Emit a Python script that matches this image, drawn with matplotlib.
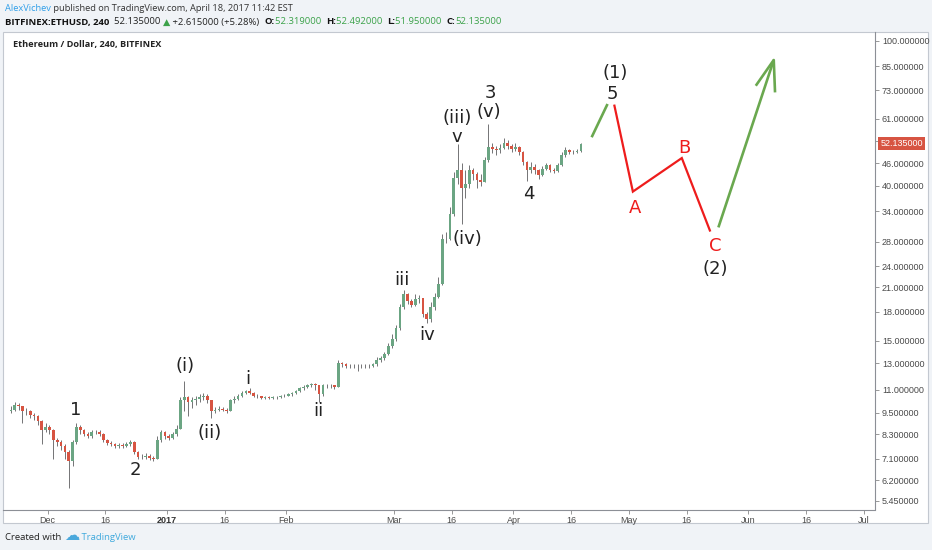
import numpy as np
import pandas as pd
import matplotlib
matplotlib.use('Agg')
import matplotlib.pyplot as plt
import matplotlib.dates as mdates
import matplotlib.transforms as mtransforms
from matplotlib.patches import Rectangle
from matplotlib.ticker import FixedLocator, NullLocator, FixedFormatter

W, H = 932, 550

# daily candles (BITFINEX ETHUSD)
dates = pd.date_range('2016-11-21', '2017-04-18', freq='D')
closes = [9.7, 10.0, 9.9, 9.6, 9.6, 9.4, 9.3, 9.0, 8.5, 8.7,
          8.5, 8.0, 7.9, 7.7, 7.4, 7.0, 7.9, 8.7, 8.5, 8.3,
          8.2, 8.4, 8.4, 8.3, 8.0, 7.85, 7.8, 7.7, 7.75, 7.7,
          7.8, 7.9, 7.4, 7.2, 7.2, 7.25, 7.15, 7.1, 8.0, 8.4, 8.2,
          8.1, 8.3, 8.6, 10.3, 10.5, 10.2, 10.3, 10.4, 10.5, 10.6,
          10.3, 9.6, 9.7, 9.75, 9.7, 9.6, 10.3, 10.4, 10.6, 10.8,
          10.9, 10.8, 10.6, 10.55, 10.45, 10.5, 10.45, 10.5, 10.5, 10.55, 10.6,
          10.7, 10.75, 10.9, 11.1, 11.2, 11.3, 11.4, 11.3, 10.7, 11.3,
          11.3, 11.3, 11.2, 13.0, 12.9, 12.8, 12.8, 12.8, 12.75, 12.8,
          12.8, 12.8, 12.9, 13.3, 13.4, 13.8, 14.5, 15.2,
          16.2, 18.5, 20.2, 19.3, 18.8, 19.5, 19.6, 17.8, 17.2, 18.5,
          19.8, 21.5, 28.5, 28.6, 33.5, 42.0, 44.0, 39.5, 40.5, 44.0,
          43.0, 41.5, 41.0, 47.0, 51.0, 50.5, 50.0, 50.8, 52.5, 51.5, 50.5,
          51.0, 49.5, 46.5, 44.0, 45.0, 44.0, 42.8, 44.5, 45.5, 44.2,
          43.8, 45.5, 48.5, 50.2, 49.4, 49.4, 49.8, 52.1]
highs = [9.9, 10.2, 10.1, 9.95, 9.8, 9.7, 9.5, 9.4, 9.1, 8.9,
         8.8, 8.6, 8.1, 8.0, 7.8, 7.5, 8.0, 8.9, 8.8, 8.6,
         8.4, 8.5, 8.55, 8.5, 8.35, 8.05, 7.95, 7.85, 7.85, 7.85,
         7.9, 8.0, 7.95, 7.45, 7.3, 7.35, 7.3, 7.25, 8.2, 8.5, 8.45,
         8.3, 8.4, 8.8, 10.5, 11.6, 10.6, 10.5, 10.6, 10.7, 10.75,
         10.7, 10.3, 9.85, 9.9, 9.85, 9.8, 10.4, 10.6, 10.7, 10.9,
         11.0, 11.1, 10.85, 10.7, 10.6, 10.6, 10.55, 10.6, 10.6, 10.65, 10.7,
         10.8, 10.85, 11.0, 11.2, 11.3, 11.4, 11.5, 11.45, 11.3, 11.4,
         11.4, 11.4, 11.35, 13.3, 13.1, 13.0, 12.95, 12.95, 12.9, 12.95,
         12.95, 12.95, 13.05, 13.5, 13.6, 14.0, 14.8, 15.6,
         16.6, 18.9, 20.6, 20.3, 19.5, 20.2, 20.0, 19.7, 18.0, 19.2,
         20.3, 22.5, 29.5, 29.9, 35.0, 43.5, 52.0, 46.0, 44.0, 45.5,
         44.8, 43.5, 43.0, 48.0, 59.0, 52.5, 51.5, 52.0, 54.0, 53.2, 52.0,
         52.5, 51.3, 49.8, 46.8, 46.5, 45.8, 44.5, 45.3, 46.2, 45.8,
         44.6, 46.0, 49.6, 51.0, 50.4, 50.0, 50.3, 52.5]
lows = [9.5, 9.6, 9.7, 8.9, 9.4, 9.2, 9.1, 8.8, 7.8, 8.4,
        8.3, 7.1, 7.7, 7.5, 7.1, 5.9, 6.8, 7.8, 8.3, 8.2,
        8.1, 8.1, 8.3, 8.2, 7.9, 7.75, 7.7, 7.6, 7.6, 7.6,
        7.65, 7.7, 7.3, 7.1, 7.1, 7.1, 7.05, 7.0, 7.1, 7.9, 8.05,
        8.0, 8.05, 8.2, 8.6, 9.6, 9.3, 9.8, 10.0, 10.2, 10.3,
        10.1, 9.2, 9.5, 9.6, 9.6, 9.5, 9.6, 10.1, 10.3, 10.5,
        10.7, 10.7, 10.5, 10.45, 10.35, 10.4, 10.35, 10.4, 10.4, 10.45, 10.5,
        10.55, 10.6, 10.7, 10.85, 11.0, 11.1, 11.2, 11.0, 10.2, 10.6,
        11.15, 11.15, 11.05, 11.2, 12.7, 12.65, 12.65, 12.65, 12.4, 12.6,
        12.65, 12.65, 12.7, 12.8, 13.1, 13.3, 13.7, 14.3,
        15.0, 16.0, 18.3, 18.9, 18.5, 18.7, 19.0, 17.4, 16.8, 16.9,
        18.2, 19.6, 21.3, 27.8, 28.3, 33.0, 40.5, 31.4, 37.0, 39.5,
        41.5, 39.5, 40.0, 40.8, 46.5, 49.0, 48.5, 49.2, 50.3, 50.5, 49.5,
        49.8, 48.5, 45.5, 41.3, 43.2, 43.0, 41.8, 42.5, 44.0, 43.6,
        43.2, 43.5, 45.3, 48.0, 48.8, 48.9, 49.0, 49.6]
first_open = 9.6

# projected wave path (drawn on the chart)
impulse_dates = ['2017-04-21 07:00', '2017-04-25 10:00']
impulse_prices = [54.3, 67.0]
abc_dates = ['2017-04-27 05:00', '2017-05-02 00:00', '2017-05-14 17:00', '2017-05-22 00:00']
abc_prices = [66.3, 38.5, 47.6, 30.1]
wave3_dates = ['2017-05-24 05:00', '2017-06-07 14:00']
wave3_prices = [30.7, 88.5]
head_dates = ['2017-06-02 22:00', '2017-06-07 14:00', '2017-06-07 22:00']
head_prices = [75.2, 88.5, 72.1]

# wave count labels
wave_labels = ['1', '2', '(i)', '(ii)', 'i', 'ii', 'iii', 'iv', '(iii)', 'v',
               '(iv)', '3', '(v)', '4', '(1)', '5', 'A', 'B', 'C', '(2)']
wave_dates = ['2016-12-08 10:00', '2016-12-23 17:00', '2017-01-05 17:00', '2017-01-12 05:00',
              '2017-01-22 02:00', '2017-02-09 05:00', '2017-03-03 00:00', '2017-03-09 12:00',
              '2017-03-17 07:00', '2017-03-17 07:00', '2017-03-19 22:00', '2017-03-25 22:00',
              '2017-03-25 17:00', '2017-04-05 02:00', '2017-04-27 10:00', '2017-04-26 14:00',
              '2017-05-02 14:00', '2017-05-15 07:00', '2017-05-23 10:00', '2017-05-23 10:00']
wave_prices = [9.67, 6.62, 12.8, 8.38, 11.8, 9.63, 22.0, 15.5, 61.4, 54.5,
               28.5, 71.8, 63.5, 37.9, 81.5, 71.3, 34.6, 50.8, 27.3, 23.6]
wave_colors = ['#222222'] * 16 + ['#ee1c1c', '#ee1c1c', '#ee1c1c', '#222222']

y_ticks = [100, 85, 73, 61, 53, 46, 40, 34, 28, 24, 21, 18, 15, 13, 11, 9.5, 8.3, 7.1, 6.2, 5.45]
x_ticks = ['2016-12-01', '2016-12-16', '2017-01-01', '2017-01-16', '2017-02-01', '2017-03-01',
           '2017-03-16', '2017-04-01', '2017-04-16', '2017-05-01', '2017-05-16', '2017-06-01',
           '2017-06-16', '2017-07-01']
x_labels = ['Dec', '16', '2017', '16', 'Feb', 'Mar', '16', 'Apr', '16', 'May', '16', 'Jun', '16', 'Jul']
last_price = 52.135

up_color = '#6ba583'
down_color = '#d75442'
wick_color = '#737375'
proj_green = '#6aa84f'
proj_red = '#ee1c1c'
axis_font = 'Liberation Sans'

fig = plt.figure(figsize=(W / 100, H / 100), dpi=100)
fig.patch.set_facecolor('#f0f3f7')

# white chart panel (behind the axes)
fig.patches.append(Rectangle((3 / W, 1 - 523 / H), 925 / W, (523 - 32) / H,
                             transform=fig.transFigure, facecolor='white',
                             edgecolor='#c3c8d0', linewidth=0.8, zorder=-5))

ax = fig.add_axes([3 / W, 1 - 509.5 / H, 872 / W, (509.5 - 32) / H], zorder=2)
ax.set_facecolor('none')
ax.set_yscale('log')

c = np.array(closes)
o = np.array([first_open] + closes[:-1])
xs = mdates.date2num(dates) + 0.5
cols = np.where(c >= o, up_color, down_color)
ax.vlines(xs, lows, highs, color=wick_color, linewidth=0.7, zorder=2)
ax.bar(xs, np.abs(c - o), bottom=np.minimum(o, c), width=0.7, color=cols, linewidth=0, zorder=3)

# projection
ax.plot(pd.to_datetime(impulse_dates), impulse_prices, color=proj_green, lw=1.9, solid_capstyle='butt')
ax.plot(pd.to_datetime(abc_dates), abc_prices, color=proj_red, lw=1.6, solid_joinstyle='miter')
ax.plot(pd.to_datetime(wave3_dates), wave3_prices, color=proj_green, lw=1.9, solid_capstyle='butt')
ax.plot(pd.to_datetime(head_dates), head_prices, color=proj_green, lw=1.9, solid_capstyle='butt')

for lab, d, p, col in zip(wave_labels, wave_dates, wave_prices, wave_colors):
    ax.text(mdates.date2num(pd.Timestamp(d)), p, lab, color=col, fontsize=13,
            ha='center', va='center', family='DejaVu Sans')

ax.set_xlim(mdates.date2num(pd.Timestamp('2016-11-19 10:30')),
            mdates.date2num(pd.Timestamp('2017-07-03 21:00')))
ax.set_ylim(5.155, 105.65)

# right price scale
ax.yaxis.tick_right()
ax.yaxis.set_major_locator(FixedLocator(y_ticks))
ax.yaxis.set_major_formatter(FixedFormatter(['%.6f' % v for v in y_ticks]))
ax.yaxis.set_minor_locator(NullLocator())
ax.tick_params(axis='y', which='major', length=3, width=0.6, color='#888888', pad=2,
               labelsize=6.5, labelcolor='#4a4a4a')

ax.set_xticks(mdates.date2num(pd.to_datetime(x_ticks)))
ax.set_xticklabels(x_labels)
ax.tick_params(axis='x', length=3, width=0.6, color='#888888', pad=2,
               labelsize=6.5, labelcolor='#4a4a4a')
for t in ax.get_xticklabels() + ax.get_yticklabels():
    t.set_family(axis_font)
ax.get_xticklabels()[2].set_fontweight('bold')
ax.get_xticklabels()[2].set_color('#333333')

for side in ['top', 'left']:
    ax.spines[side].set_visible(False)
for side in ['right', 'bottom']:
    ax.spines[side].set_color('#8c8f96')
    ax.spines[side].set_linewidth(0.8)

# last price marker
trans = mtransforms.blended_transform_factory(ax.transAxes, ax.transData)
ax.text(1.006, last_price, '%.6f' % last_price, transform=trans, color='white',
        fontsize=6.5, family=axis_font, ha='left', va='center', clip_on=False, zorder=10,
        bbox=dict(boxstyle='square,pad=0.25', facecolor=down_color, edgecolor='none'))

ax.text(0.011, 1 - 12 / 477.5, 'Ethereum / Dollar, 240, BITFINEX', transform=ax.transAxes,
        fontsize=6.6, fontweight='bold', family='Open Sans', color='#222222', va='center')

# header and footer lines, drawn piece by piece
renderer = fig.canvas.get_renderer()


def chain(x, y, parts, size):
    for s, col, weight, *extra in parts:
        fs = extra[0] if extra else size
        t = fig.text(x / W, 1 - y / H, s, color=col, fontsize=fs, fontweight=weight,
                     family=['Open Sans', 'DejaVu Sans'], va='center', ha='left')
        x += t.get_window_extent(renderer=renderer).width


green_txt = '#3ca24a'
chain(5, 8.5, [('AlexVichev', '#2f9ee8', 'normal'),
               (' published on TradingView.com, April 18, 2017 11:42 EST', '#333333', 'normal')], 6.7)
chain(5, 22, [('BITFINEX:ETHUSD, 240', '#111111', 'bold'),
              ('  52.135000 ', '#222222', 'normal'),
              ('\u25b2', green_txt, 'normal'),
              (' +2.615000 (+5.28%)  ', '#222222', 'normal'),
              ('O:', '#111111', 'bold'), ('52.319000  ', green_txt, 'normal'),
              ('H:', '#111111', 'bold'), ('52.492000  ', green_txt, 'normal'),
              ('L:', '#111111', 'bold'), ('51.950000  ', green_txt, 'normal'),
              ('C:', '#111111', 'bold'), ('52.135000', green_txt, 'normal')], 6.8)
chain(5, 537, [('Created with ', '#222222', 'normal'),
               ('\u2601', '#4aa8dc', 'normal', 11),
               (' TradingView', '#3fa9dd', 'normal')], 6.8)

fig.savefig('out.png', dpi=100, facecolor=fig.get_facecolor())
